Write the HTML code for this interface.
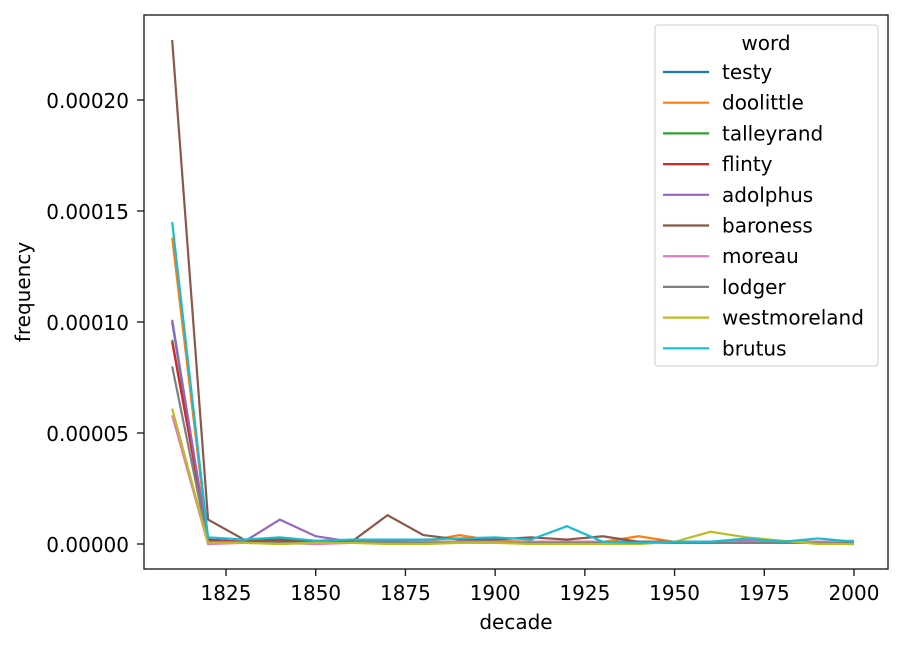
<!DOCTYPE html>
<html><head><meta charset="utf-8"><style>
body{margin:0;background:#fff;font-family:"Liberation Sans","DejaVu Sans",sans-serif}
svg text{font-family:"DejaVu Sans","Liberation Sans",sans-serif}
</style></head><body>
<svg id="chart" width="903" height="647" xmlns="http://www.w3.org/2000/svg"></svg>
<script>
const decades=[1810,1820,1830,1840,1850,1860,1870,1880,1890,1900,1910,1920,1930,1940,1950,1960,1970,1980,1990,2000];
const words=["testy","doolittle","talleyrand","flinty","adolphus","baroness","moreau","lodger","westmoreland","brutus"];
const colors=["#1f77b4","#ff7f0e","#2ca02c","#d62728","#9467bd","#8c564b","#e377c2","#7f7f7f","#bcbd22","#17becf"];
// values in 1e-6
const testy=[100,1,1,1,1,1,1,1,1,1,1,1,1,1,1,1,1,1,1,1];
const doolittle=[138,1,1,1.5,1,1,1,1,4,1.5,1,1,1,3.5,1,1,1,1,1,1];
const talleyrand=[92,1.5,1,2,1,1,0.5,1,1,1,0.5,1,0.5,0.5,0.5,0.5,0.5,0.5,0.5,0.5];
const flinty=[91,2,1,1,1,0.5,0.5,0.5,0.5,0.5,0.5,0.5,0.5,0.5,0.5,0.5,0.5,0.5,0.5,0.5];
const adolphus=[101,1,1,11,3.5,1,1,1,0.5,0.5,0.5,0.5,0.5,0.5,0.5,0.5,1.5,0.5,0.5,0.5];
const baroness=[227,11,2,2,1,1,13,4,2,2,3,2,3.5,1,1,1,1,1,1,1];
const moreau=[58,0,0.5,0.5,0,0.5,0.5,1,1,1,1,1,1,0.5,1,1,1,1,1,1.5];
const lodger=[80,0.5,0.5,0.5,0.5,0.5,0.5,0.5,0.5,0.5,0.5,0.5,0.5,0.5,0.5,0.5,0.5,0.5,0.5,0];
const westmoreland=[61,0.5,0.5,0,0.5,0.5,0,0,0.5,0.5,0,0,0,0,1,5.5,3,1.5,0,0];
const brutus=[145,3,2,3,1.5,2,2,2,2.5,3,2,8,1,0.5,1,1,2.5,1,2.5,1];
const series=[testy,doolittle,talleyrand,flinty,adolphus,baroness,moreau,lodger,westmoreland,brutus];
const yTicks=[0,50,100,150,200];
const yTickLabels=["0.00000","0.00005","0.00010","0.00015","0.00020"];
const xTicks=[1825,1850,1875,1900,1925,1950,1975,2000];
const L=144,R=888,T=15,B=569;
const FS=20;
const x=d=>226+(d-1825)*628/175;
const y=v=>544-v*111/50;
const svg=document.getElementById('chart');
const NS="http://www.w3.org/2000/svg";
function mk(t,a,txt){const e=document.createElementNS(NS,t);for(const k in a)e.setAttribute(k,a[k]);if(txt!==undefined)e.textContent=txt;svg.appendChild(e);return e;}
series.forEach((s,i)=>{
 const p=mk('polyline',{points:s.map((v,j)=>x(decades[j])+','+y(v)).join(' '),fill:'none',stroke:colors[i],'stroke-width':2.2});
 
 
});
const fr=mk('rect',{x:L,y:T,width:R-L,height:B-T,fill:'none',stroke:'#222','stroke-width':1.4});


yTicks.forEach((v,i)=>{
 mk('line',{x1:L-7,x2:L,y1:y(v),y2:y(v),stroke:'#222','stroke-width':1.4});
 const t=mk('text',{x:L-15,y:y(v)+8,'text-anchor':'end','font-size':FS},yTickLabels[i]);
 
 
});
xTicks.forEach(v=>{
 mk('line',{x1:x(v),x2:x(v),y1:B,y2:B+7,stroke:'#222','stroke-width':1.4});
 const t=mk('text',{x:x(v),y:B+31,'text-anchor':'middle','font-size':FS},v);
 
 
});
const xt=mk('text',{x:516,y:629,'text-anchor':'middle','font-size':FS},'decade');


const yt=mk('text',{x:0,y:0,'text-anchor':'middle','font-size':FS,transform:'translate(30,292) rotate(-90)'},'frequency');


const lg=mk('rect',{x:655,y:25,width:223,height:341,rx:3,fill:'#fff','fill-opacity':0.8,stroke:'#ccc'});


const lt=mk('text',{x:766,y:50,'text-anchor':'middle','font-size':FS},'word');


words.forEach((w,i)=>{
 const yy=72+i*30.7;
 mk('line',{x1:663,x2:709,y1:yy,y2:yy,stroke:colors[i],'stroke-width':2.2});
 const t=mk('text',{x:722,y:yy+7,'font-size':FS},w);
 
 
});
</script>
</body></html>
